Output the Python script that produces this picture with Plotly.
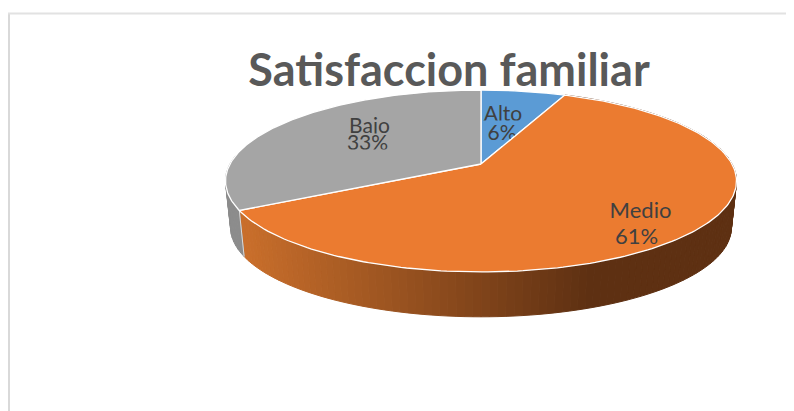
import numpy as np
import plotly.graph_objects as go

categories = ["Alto", "Medio", "Bajo"]
values = [6.4, 60.6, 33]
percent_labels = ["6%", "61%", "33%"]
title_text = "Satisfaccion familiar"
top_colors = ["#5B9BD5", "#EB7B30", "#A5A5A5"]

W, H = 794, 411
PAGE = 8                   # page margin the browser puts around the figure
AX, AY = 481, 164          # apex of the pie
A, B, K = 251.0, 87.8, 0.1868
DEPTH, SCALE = 47, 0.98


def top_xy(t):
    u, v = np.sin(t), np.cos(t)
    d = 1 + K * v
    return AX + A * u / d, AY - B * v / d


def bot_xy(t):
    x, y = top_xy(t)
    return AX + SCALE * (x - AX), AY + SCALE * (y - AY) + DEPTH


def lerp(c1, c2, f):
    return "rgb(%d,%d,%d)" % tuple(round(a + (b - a) * f) for a, b in zip(c1, c2))


def orange_side(x):
    f = np.clip((x - 245) / (590 - 245), 0, 1)
    return lerp((200, 110, 43), (94, 48, 18), f)


fig = go.Figure()

fracs = np.cumsum([0] + values) / sum(values)
starts, ends = 2 * np.pi * fracs[:-1], 2 * np.pi * fracs[1:]


def poly(x, y, fill, line=None, width=1.0):
    fig.add_trace(go.Scatter(
        x=list(x), y=list(y), mode="lines", fill="toself", fillcolor=fill,
        line=dict(color=line or fill, width=width), hoverinfo="skip", showlegend=False))


def face(i):
    t = np.linspace(starts[i], ends[i], 200)
    x, y = top_xy(t)
    poly(np.r_[AX, x, AX], np.r_[AY, y, AY], top_colors[i], "#FFFFFF", 1.3)


def label(x, y, text, size=21):
    fig.add_trace(go.Scatter(x=[x], y=[y], mode="text", text=[text], textposition="middle center",
                             textfont=dict(family="Lato", size=size, color="#404040"),
                             hoverinfo="skip", showlegend=False))


def mask(x0, x1, y0, y1, c):
    poly([x0, x1, x1, x0, x0], [y0, y0, y1, y1, y0], c, c, 0)


# side wall: orange with a horizontal gradient, grey flat
edges = np.linspace(starts[1], ends[1], 140)
for t1, t2 in zip(edges[:-1], edges[1:]):
    x1, y1 = top_xy(t1); x2, y2 = top_xy(t2)
    x3, y3 = bot_xy(t2); x4, y4 = bot_xy(t1)
    poly([x1, x2, x3, x4, x1], [y1, y2, y3, y4, y1], orange_side((x1 + x2) / 2))
edges = np.linspace(starts[2], starts[2] + 0.6, 16)
for t1, t2 in zip(edges[:-1], edges[1:]):
    x1, y1 = top_xy(t1); x2, y2 = top_xy(t2)
    x3, y3 = bot_xy(t2); x4, y4 = bot_xy(t1)
    poly([x1, x2, x3, x4, x1], [y1, y2, y3, y4, y1], "#8C8C8C")
# light seam between the grey and orange walls
sx, sy = top_xy(starts[2]); bx, by = bot_xy(starts[2])
fig.add_trace(go.Scatter(x=[sx, bx], y=[sy, by], mode="lines", line=dict(color="#D9D9D9", width=1),
                         hoverinfo="skip", showlegend=False))

# blue face and its clipped labels go under the orange face, which cuts the "6%"
face(0)
label(503, 115.5, categories[0])
mask(484, 526, 120.5, 125.5, top_colors[0])
label(502, 134.5, percent_labels[0])
mask(484, 516, 140, 146, top_colors[0])
face(1)
face(2)

# remaining data labels, with their lower edges clipped as in the source picture
label(369.5, 128, categories[2])
mask(345, 395, 133.5, 136.5, top_colors[2])
label(367.5, 144.5, percent_labels[2])
mask(345, 395, 149.5, 156, top_colors[2])
label(640.5, 212, categories[1], 22)
label(636.5, 238.5, percent_labels[1], 22)

fig.update_layout(
    width=W - PAGE, height=H - PAGE, margin=dict(l=0, r=0, t=0, b=0),
    paper_bgcolor="#FFFFFF", plot_bgcolor="#FFFFFF", showlegend=False,
    xaxis=dict(range=[PAGE, W], visible=False, fixedrange=True),
    yaxis=dict(range=[H, PAGE], visible=False, fixedrange=True),
    title=dict(text=title_text, x=(449 - PAGE) / (W - PAGE), xanchor="center",
               y=1 - (70 - PAGE) / (H - PAGE), yanchor="middle",
               font=dict(family="Lato", size=45, color="#595959", weight="bold")),
    shapes=[
        dict(type="line", xref="x", yref="y", x0=9, x1=9, y0=13, y1=H, line=dict(color="#D9D9D9", width=2)),
        dict(type="line", xref="x", yref="y", x0=8, x1=W, y0=13.5, y1=13.5, line=dict(color="#E2E2E2", width=2)),
    ],
)
fig.write_html("out.html")
